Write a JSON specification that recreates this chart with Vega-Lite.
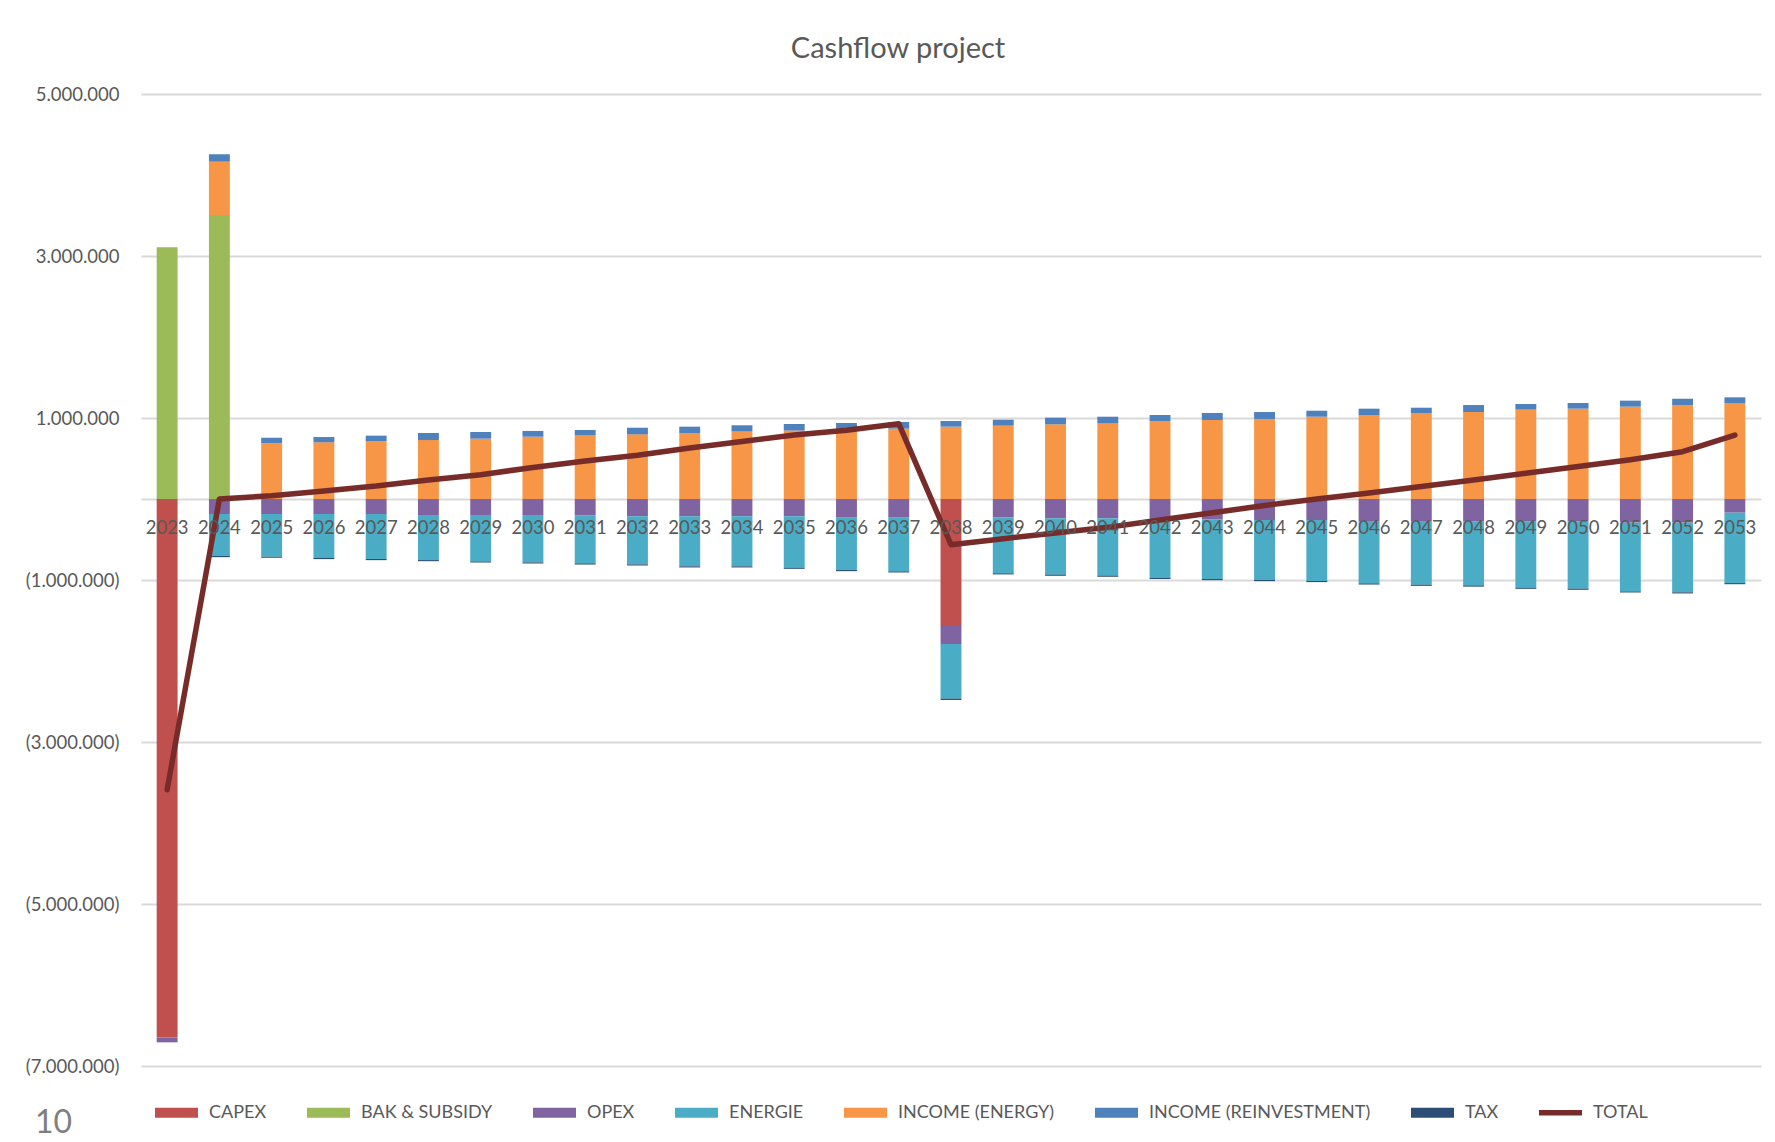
{
  "$schema": "https://vega.github.io/schema/vega-lite/v6.json",
  "width": 1620,
  "height": 972,
  "autosize": {"type": "none"},
  "padding": {"left": 141, "top": 94, "right": 14, "bottom": 76},
  "background": "white",
  "title": {
    "text": "Cashflow project",
    "font": "Lato",
    "fontSize": 29,
    "fontWeight": "normal",
    "color": "#595959",
    "anchor": "middle",
    "frame": "group",
    "baseline": "middle",
    "offset": 7,
    "dx": -53
  },
  "config": {
    "view": {"stroke": null},
    "font": "Lato"
  },
  "datasets": {
    "bars": [
      {"year": "2023", "series": "CAPEX", "value": -6646000, "ord": 1},
      {"year": "2038", "series": "CAPEX", "value": -1568000, "ord": 1},
      {"year": "2023", "series": "BAK & SUBSIDY", "value": 3107000, "ord": 2},
      {"year": "2024", "series": "BAK & SUBSIDY", "value": 3506000, "ord": 2},
      {"year": "2023", "series": "OPEX", "value": -62000, "ord": 3},
      {"year": "2024", "series": "OPEX", "value": -185000, "ord": 3},
      {"year": "2025", "series": "OPEX", "value": -185000, "ord": 3},
      {"year": "2026", "series": "OPEX", "value": -185000, "ord": 3},
      {"year": "2027", "series": "OPEX", "value": -185000, "ord": 3},
      {"year": "2028", "series": "OPEX", "value": -198000, "ord": 3},
      {"year": "2029", "series": "OPEX", "value": -198000, "ord": 3},
      {"year": "2030", "series": "OPEX", "value": -198000, "ord": 3},
      {"year": "2031", "series": "OPEX", "value": -202000, "ord": 3},
      {"year": "2032", "series": "OPEX", "value": -214000, "ord": 3},
      {"year": "2033", "series": "OPEX", "value": -214000, "ord": 3},
      {"year": "2034", "series": "OPEX", "value": -214000, "ord": 3},
      {"year": "2035", "series": "OPEX", "value": -214000, "ord": 3},
      {"year": "2036", "series": "OPEX", "value": -231000, "ord": 3},
      {"year": "2037", "series": "OPEX", "value": -231000, "ord": 3},
      {"year": "2038", "series": "OPEX", "value": -222000, "ord": 3},
      {"year": "2039", "series": "OPEX", "value": -226000, "ord": 3},
      {"year": "2040", "series": "OPEX", "value": -238000, "ord": 3},
      {"year": "2041", "series": "OPEX", "value": -238000, "ord": 3},
      {"year": "2042", "series": "OPEX", "value": -251000, "ord": 3},
      {"year": "2043", "series": "OPEX", "value": -251000, "ord": 3},
      {"year": "2044", "series": "OPEX", "value": -259000, "ord": 3},
      {"year": "2045", "series": "OPEX", "value": -259000, "ord": 3},
      {"year": "2046", "series": "OPEX", "value": -272000, "ord": 3},
      {"year": "2047", "series": "OPEX", "value": -272000, "ord": 3},
      {"year": "2048", "series": "OPEX", "value": -280000, "ord": 3},
      {"year": "2049", "series": "OPEX", "value": -280000, "ord": 3},
      {"year": "2050", "series": "OPEX", "value": -280000, "ord": 3},
      {"year": "2051", "series": "OPEX", "value": -292000, "ord": 3},
      {"year": "2052", "series": "OPEX", "value": -292000, "ord": 3},
      {"year": "2053", "series": "OPEX", "value": -169000, "ord": 3},
      {"year": "2024", "series": "ENERGIE", "value": -519000, "ord": 4},
      {"year": "2025", "series": "ENERGIE", "value": -527000, "ord": 4},
      {"year": "2026", "series": "ENERGIE", "value": -543000, "ord": 4},
      {"year": "2027", "series": "ENERGIE", "value": -556000, "ord": 4},
      {"year": "2028", "series": "ENERGIE", "value": -556000, "ord": 4},
      {"year": "2029", "series": "ENERGIE", "value": -572000, "ord": 4},
      {"year": "2030", "series": "ENERGIE", "value": -584000, "ord": 4},
      {"year": "2031", "series": "ENERGIE", "value": -593000, "ord": 4},
      {"year": "2032", "series": "ENERGIE", "value": -593000, "ord": 4},
      {"year": "2033", "series": "ENERGIE", "value": -617000, "ord": 4},
      {"year": "2034", "series": "ENERGIE", "value": -617000, "ord": 4},
      {"year": "2035", "series": "ENERGIE", "value": -634000, "ord": 4},
      {"year": "2036", "series": "ENERGIE", "value": -646000, "ord": 4},
      {"year": "2037", "series": "ENERGIE", "value": -662000, "ord": 4},
      {"year": "2038", "series": "ENERGIE", "value": -675000, "ord": 4},
      {"year": "2039", "series": "ENERGIE", "value": -691000, "ord": 4},
      {"year": "2040", "series": "ENERGIE", "value": -696000, "ord": 4},
      {"year": "2041", "series": "ENERGIE", "value": -708000, "ord": 4},
      {"year": "2042", "series": "ENERGIE", "value": -724000, "ord": 4},
      {"year": "2043", "series": "ENERGIE", "value": -737000, "ord": 4},
      {"year": "2044", "series": "ENERGIE", "value": -741000, "ord": 4},
      {"year": "2045", "series": "ENERGIE", "value": -753000, "ord": 4},
      {"year": "2046", "series": "ENERGIE", "value": -770000, "ord": 4},
      {"year": "2047", "series": "ENERGIE", "value": -786000, "ord": 4},
      {"year": "2048", "series": "ENERGIE", "value": -786000, "ord": 4},
      {"year": "2049", "series": "ENERGIE", "value": -815000, "ord": 4},
      {"year": "2050", "series": "ENERGIE", "value": -827000, "ord": 4},
      {"year": "2051", "series": "ENERGIE", "value": -848000, "ord": 4},
      {"year": "2052", "series": "ENERGIE", "value": -860000, "ord": 4},
      {"year": "2053", "series": "ENERGIE", "value": -869000, "ord": 4},
      {"year": "2024", "series": "INCOME (ENERGY)", "value": 658000, "ord": 5},
      {"year": "2025", "series": "INCOME (ENERGY)", "value": 688000, "ord": 5},
      {"year": "2026", "series": "INCOME (ENERGY)", "value": 700000, "ord": 5},
      {"year": "2027", "series": "INCOME (ENERGY)", "value": 716000, "ord": 5},
      {"year": "2028", "series": "INCOME (ENERGY)", "value": 728000, "ord": 5},
      {"year": "2029", "series": "INCOME (ENERGY)", "value": 745000, "ord": 5},
      {"year": "2030", "series": "INCOME (ENERGY)", "value": 769000, "ord": 5},
      {"year": "2031", "series": "INCOME (ENERGY)", "value": 786000, "ord": 5},
      {"year": "2032", "series": "INCOME (ENERGY)", "value": 798000, "ord": 5},
      {"year": "2033", "series": "INCOME (ENERGY)", "value": 811000, "ord": 5},
      {"year": "2034", "series": "INCOME (ENERGY)", "value": 835000, "ord": 5},
      {"year": "2035", "series": "INCOME (ENERGY)", "value": 845000, "ord": 5},
      {"year": "2036", "series": "INCOME (ENERGY)", "value": 860000, "ord": 5},
      {"year": "2037", "series": "INCOME (ENERGY)", "value": 868000, "ord": 5},
      {"year": "2038", "series": "INCOME (ENERGY)", "value": 893000, "ord": 5},
      {"year": "2039", "series": "INCOME (ENERGY)", "value": 905000, "ord": 5},
      {"year": "2040", "series": "INCOME (ENERGY)", "value": 922000, "ord": 5},
      {"year": "2041", "series": "INCOME (ENERGY)", "value": 934000, "ord": 5},
      {"year": "2042", "series": "INCOME (ENERGY)", "value": 963000, "ord": 5},
      {"year": "2043", "series": "INCOME (ENERGY)", "value": 975000, "ord": 5},
      {"year": "2044", "series": "INCOME (ENERGY)", "value": 988000, "ord": 5},
      {"year": "2045", "series": "INCOME (ENERGY)", "value": 1016000, "ord": 5},
      {"year": "2046", "series": "INCOME (ENERGY)", "value": 1033000, "ord": 5},
      {"year": "2047", "series": "INCOME (ENERGY)", "value": 1058000, "ord": 5},
      {"year": "2048", "series": "INCOME (ENERGY)", "value": 1074000, "ord": 5},
      {"year": "2049", "series": "INCOME (ENERGY)", "value": 1103000, "ord": 5},
      {"year": "2050", "series": "INCOME (ENERGY)", "value": 1115000, "ord": 5},
      {"year": "2051", "series": "INCOME (ENERGY)", "value": 1140000, "ord": 5},
      {"year": "2052", "series": "INCOME (ENERGY)", "value": 1157000, "ord": 5},
      {"year": "2053", "series": "INCOME (ENERGY)", "value": 1181000, "ord": 5},
      {"year": "2024", "series": "INCOME (REINVESTMENT)", "value": 92000, "ord": 6},
      {"year": "2025", "series": "INCOME (REINVESTMENT)", "value": 69000, "ord": 6},
      {"year": "2026", "series": "INCOME (REINVESTMENT)", "value": 65000, "ord": 6},
      {"year": "2027", "series": "INCOME (REINVESTMENT)", "value": 66000, "ord": 6},
      {"year": "2028", "series": "INCOME (REINVESTMENT)", "value": 87000, "ord": 6},
      {"year": "2029", "series": "INCOME (REINVESTMENT)", "value": 82000, "ord": 6},
      {"year": "2030", "series": "INCOME (REINVESTMENT)", "value": 71000, "ord": 6},
      {"year": "2031", "series": "INCOME (REINVESTMENT)", "value": 66000, "ord": 6},
      {"year": "2032", "series": "INCOME (REINVESTMENT)", "value": 82000, "ord": 6},
      {"year": "2033", "series": "INCOME (REINVESTMENT)", "value": 82000, "ord": 6},
      {"year": "2034", "series": "INCOME (REINVESTMENT)", "value": 75000, "ord": 6},
      {"year": "2035", "series": "INCOME (REINVESTMENT)", "value": 81000, "ord": 6},
      {"year": "2036", "series": "INCOME (REINVESTMENT)", "value": 78000, "ord": 6},
      {"year": "2037", "series": "INCOME (REINVESTMENT)", "value": 83000, "ord": 6},
      {"year": "2038", "series": "INCOME (REINVESTMENT)", "value": 70000, "ord": 6},
      {"year": "2039", "series": "INCOME (REINVESTMENT)", "value": 74000, "ord": 6},
      {"year": "2040", "series": "INCOME (REINVESTMENT)", "value": 82000, "ord": 6},
      {"year": "2041", "series": "INCOME (REINVESTMENT)", "value": 82000, "ord": 6},
      {"year": "2042", "series": "INCOME (REINVESTMENT)", "value": 74000, "ord": 6},
      {"year": "2043", "series": "INCOME (REINVESTMENT)", "value": 87000, "ord": 6},
      {"year": "2044", "series": "INCOME (REINVESTMENT)", "value": 86000, "ord": 6},
      {"year": "2045", "series": "INCOME (REINVESTMENT)", "value": 74000, "ord": 6},
      {"year": "2046", "series": "INCOME (REINVESTMENT)", "value": 82000, "ord": 6},
      {"year": "2047", "series": "INCOME (REINVESTMENT)", "value": 69000, "ord": 6},
      {"year": "2048", "series": "INCOME (REINVESTMENT)", "value": 86000, "ord": 6},
      {"year": "2049", "series": "INCOME (REINVESTMENT)", "value": 70000, "ord": 6},
      {"year": "2050", "series": "INCOME (REINVESTMENT)", "value": 70000, "ord": 6},
      {"year": "2051", "series": "INCOME (REINVESTMENT)", "value": 74000, "ord": 6},
      {"year": "2052", "series": "INCOME (REINVESTMENT)", "value": 81000, "ord": 6},
      {"year": "2053", "series": "INCOME (REINVESTMENT)", "value": 74000, "ord": 6},
      {"year": "2024", "series": "TAX", "value": -14000, "ord": 7},
      {"year": "2025", "series": "TAX", "value": -14000, "ord": 7},
      {"year": "2026", "series": "TAX", "value": -14000, "ord": 7},
      {"year": "2027", "series": "TAX", "value": -14000, "ord": 7},
      {"year": "2028", "series": "TAX", "value": -14000, "ord": 7},
      {"year": "2029", "series": "TAX", "value": -14000, "ord": 7},
      {"year": "2030", "series": "TAX", "value": -14000, "ord": 7},
      {"year": "2031", "series": "TAX", "value": -14000, "ord": 7},
      {"year": "2032", "series": "TAX", "value": -14000, "ord": 7},
      {"year": "2033", "series": "TAX", "value": -14000, "ord": 7},
      {"year": "2034", "series": "TAX", "value": -14000, "ord": 7},
      {"year": "2035", "series": "TAX", "value": -14000, "ord": 7},
      {"year": "2036", "series": "TAX", "value": -14000, "ord": 7},
      {"year": "2037", "series": "TAX", "value": -14000, "ord": 7},
      {"year": "2038", "series": "TAX", "value": -16000, "ord": 7},
      {"year": "2039", "series": "TAX", "value": -14000, "ord": 7},
      {"year": "2040", "series": "TAX", "value": -14000, "ord": 7},
      {"year": "2041", "series": "TAX", "value": -14000, "ord": 7},
      {"year": "2042", "series": "TAX", "value": -14000, "ord": 7},
      {"year": "2043", "series": "TAX", "value": -14000, "ord": 7},
      {"year": "2044", "series": "TAX", "value": -14000, "ord": 7},
      {"year": "2045", "series": "TAX", "value": -14000, "ord": 7},
      {"year": "2046", "series": "TAX", "value": -14000, "ord": 7},
      {"year": "2047", "series": "TAX", "value": -14000, "ord": 7},
      {"year": "2048", "series": "TAX", "value": -16000, "ord": 7},
      {"year": "2049", "series": "TAX", "value": -14000, "ord": 7},
      {"year": "2050", "series": "TAX", "value": -14000, "ord": 7},
      {"year": "2051", "series": "TAX", "value": -14000, "ord": 7},
      {"year": "2052", "series": "TAX", "value": -14000, "ord": 7},
      {"year": "2053", "series": "TAX", "value": -14000, "ord": 7}
    ],
    "total": [
      {"year": "2023", "total": -3590000},
      {"year": "2024", "total": 0},
      {"year": "2025", "total": 40000},
      {"year": "2026", "total": 100000},
      {"year": "2027", "total": 160000},
      {"year": "2028", "total": 235000},
      {"year": "2029", "total": 300000},
      {"year": "2030", "total": 390000},
      {"year": "2031", "total": 470000},
      {"year": "2032", "total": 540000},
      {"year": "2033", "total": 630000},
      {"year": "2034", "total": 710000},
      {"year": "2035", "total": 790000},
      {"year": "2036", "total": 850000},
      {"year": "2037", "total": 930000},
      {"year": "2038", "total": -565000},
      {"year": "2039", "total": -490000},
      {"year": "2040", "total": -420000},
      {"year": "2041", "total": -350000},
      {"year": "2042", "total": -260000},
      {"year": "2043", "total": -170000},
      {"year": "2044", "total": -80000},
      {"year": "2045", "total": 0},
      {"year": "2046", "total": 75000},
      {"year": "2047", "total": 155000},
      {"year": "2048", "total": 235000},
      {"year": "2049", "total": 317000},
      {"year": "2050", "total": 400000},
      {"year": "2051", "total": 485000},
      {"year": "2052", "total": 584000},
      {"year": "2053", "total": 790000}
    ]
  },
  "layer": [
    {
      "data": {"name": "bars"},
      "mark": {"type": "bar"},
      "encoding": {
        "x": {
          "field": "year",
          "type": "ordinal",
          "scale": {"paddingInner": 0.6, "paddingOuter": 0.3},
          "axis": {
            "title": null,
            "orient": "bottom",
            "offset": -567,
            "domain": false,
            "ticks": false,
            "grid": false,
            "labelAngle": 0,
            "labelPadding": 19,
            "labelFont": "Lato",
            "labelFontSize": 18.5,
            "labelColor": "#595959",
            "zindex": 1
          }
        },
        "y": {
          "field": "value",
          "type": "quantitative",
          "stack": "zero",
          "scale": {"domain": [-7000000, 5000000], "nice": false, "zero": false},
          "axis": {
            "values": [-7000000, -5000000, -3000000, -1000000, 0, 1000000, 3000000, 5000000],
            "labelExpr": "datum.value == 0 ? '' : (datum.value < 0 ? '(' + (abs(datum.value) / 1000000) + '.000.000)' : (datum.value / 1000000) + '.000.000')",
            "domain": false,
            "ticks": false,
            "grid": true,
            "gridColor": "#d9d9d9",
            "gridWidth": 1.8,
            "labelPadding": 22,
            "labelFont": "Lato",
            "labelFontSize": 18.5,
            "labelColor": "#595959",
            "title": "10",
            "titleAngle": 0,
            "titleAlign": "center",
            "titleBaseline": "middle",
            "titleX": -88,
            "titleY": 1028,
            "titleFont": "Lato",
            "titleFontSize": 32,
            "titleFontWeight": "normal",
            "titleColor": "#7f7f7f"
          }
        },
        "color": {
          "field": "series",
          "type": "nominal",
          "scale": {
            "domain": ["CAPEX", "BAK & SUBSIDY", "OPEX", "ENERGIE", "INCOME (ENERGY)", "INCOME (REINVESTMENT)", "TAX", "TOTAL"],
            "range": ["#c0504d", "#9bbb59", "#8064a2", "#4bacc6", "#f79646", "#4f81bd", "#2c4d75", "#772c2a"]
          },
          "legend": {
            "orient": "none",
            "legendX": 14,
            "legendY": 997,
            "direction": "horizontal",
            "title": null,
            "padding": 0,
            "symbolType": "M-1,-0.23H1V0.23H-1Z",
            "symbolSize": 1849,
            "symbolStrokeWidth": 0,
            "symbolOpacity": 1,
            "labelOffset": 11,
            "labelLimit": 500,
            "columnPadding": 40,
            "labelFont": "Lato",
            "labelFontSize": 18,
            "labelColor": "#595959",
            "values": ["CAPEX", "BAK & SUBSIDY", "OPEX", "ENERGIE", "INCOME (ENERGY)", "INCOME (REINVESTMENT)", "TAX", "TOTAL"],
            "encode": {
              "symbols": {
                "update": {
                  "shape": {"signal": "datum.value == 'TOTAL' ? 'M-1,-0.13H1V0.13H-1Z' : 'M-1,-0.23H1V0.23H-1Z'"},
                  "fill": {"scale": "color", "field": "value"},
                  "stroke": {"value": "transparent"},
                  "opacity": {"value": 1}
                }
              }
            }
          }
        },
        "order": {"field": "ord", "type": "quantitative"}
      }
    },
    {
      "data": {"name": "total"},
      "mark": {"type": "line", "strokeWidth": 5.5, "strokeCap": "round", "strokeJoin": "round"},
      "encoding": {
        "x": {"field": "year", "type": "ordinal"},
        "y": {"field": "total", "type": "quantitative"},
        "color": {"datum": "TOTAL", "type": "nominal"}
      }
    }
  ]
}
